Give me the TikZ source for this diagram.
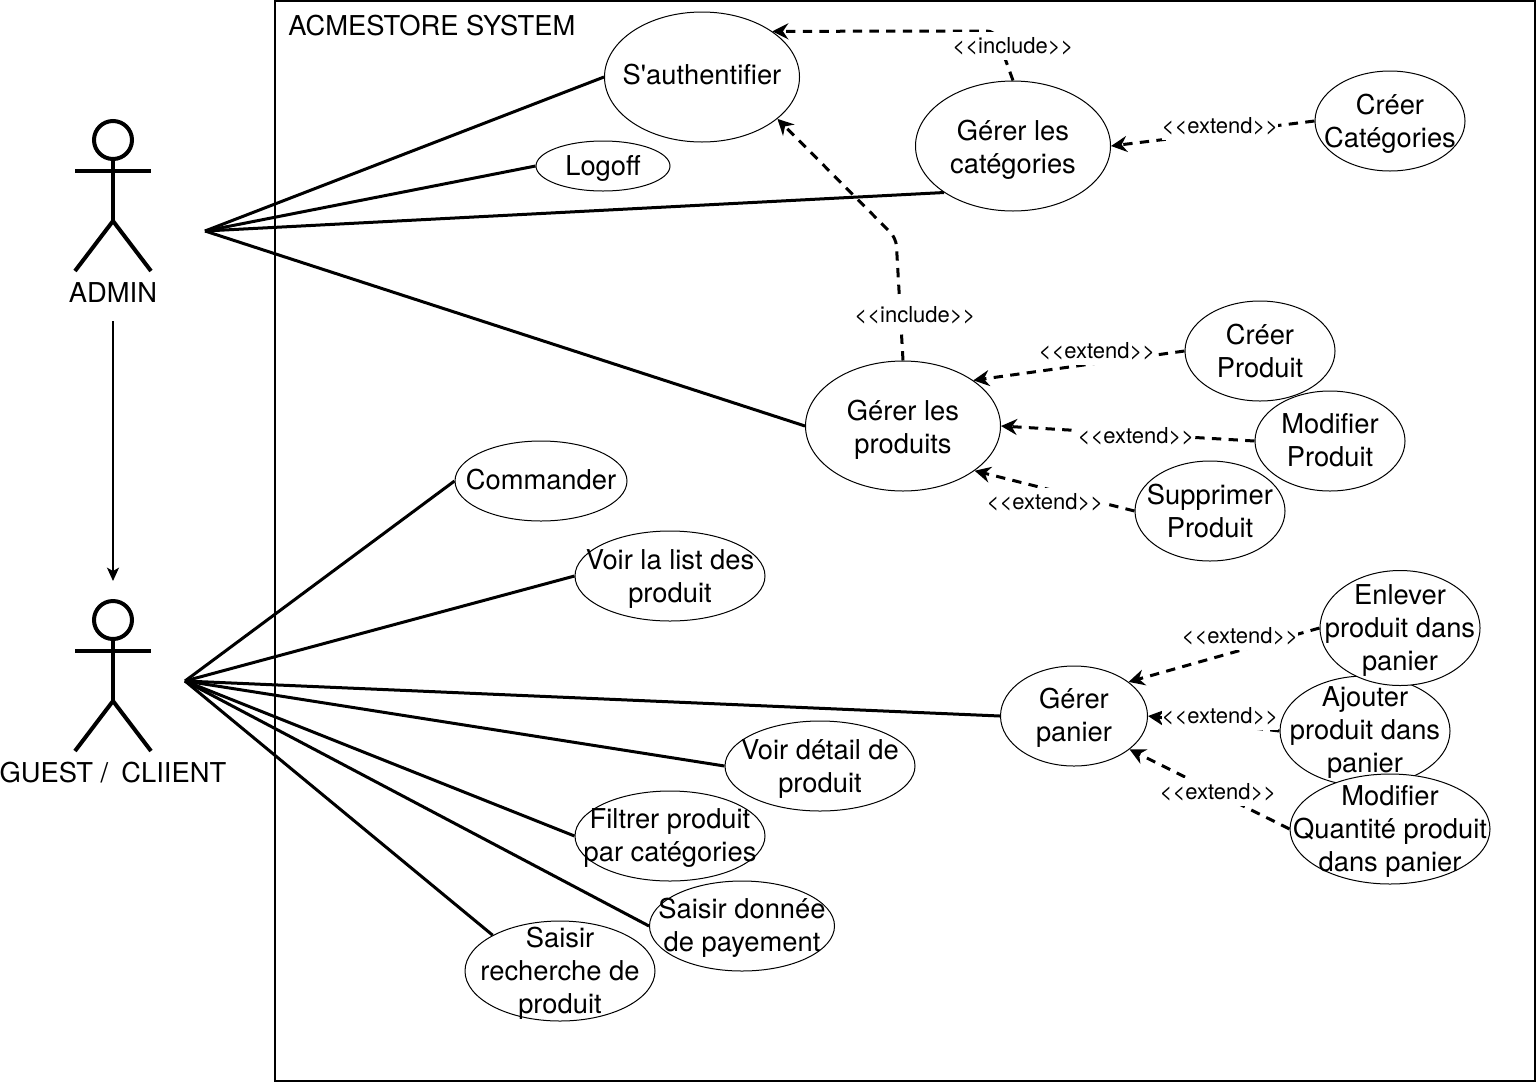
\documentclass[tikz,border=0pt]{standalone}
\usepackage{fontspec}
\setmainfont{TeX Gyre Heros}[Ligatures=TeXOff]
\usetikzlibrary{shapes.geometric,arrows.meta}
\tikzset{
  ucase/.style n args={4}{ellipse,draw,fill=white,line width=0.75pt,inner sep=0pt,
    minimum width=#1*0.75pt,minimum height=#2*0.75pt,
    label={[casetext,yshift={(#3-2)*0.75pt}]center:{#4}}},
  casetext/.style={align=center,font=\fontsize{20.5}{24.75}\selectfont},
  assoc/.style={line width=2.25pt},
  dep/.style={line width=2.25pt,dash pattern=on 7pt off 5.5pt,
    -{Stealth[length=12pt,width=12pt,inset=4pt]},rounded corners=6pt},
  deplabel/.style={fill=white,inner xsep=0pt,inner ysep=0pt,minimum height=21pt,
    font=\fontsize{16.5}{18}\selectfont},
  limb/.style={line width=3pt}
}
\begin{document}
\begin{tikzpicture}[x=0.75pt,y=-0.75pt]
\useasboundingbox (0,0) rectangle (1537,1082);
\newcommand{\actor}[3]{
  \draw[limb] (#1,#2+20) circle (19);
  \draw[limb] (#1,#2+40)--(#1,#2+101);
  \draw[limb] (#1-38,#2+51)--(#1+38,#2+51);
  \draw[limb] (#1-38,#2+151)--(#1,#2+101)--(#1+38,#2+151);
  \node[casetext] at (#1,#2+173) {#3};
}
\draw[line width=1.5pt] (275,1) rectangle (1535,1081);
\node[casetext,anchor=west,inner sep=0pt] (title) at (288,26) {ACMESTORE SYSTEM};
\actor{113}{120}{ADMIN}
\actor{113}{600}{GUEST /\ \kern-1.5pt\ CLIIENT}
\coordinate (adminport) at (205,231);
\coordinate (guestport) at (185,681);
\coordinate (adminfoot) at (113,321);
\coordinate (guesthead) at (113,581);
% use cases
\node[ucase={195}{130}{4}{S'authentifier}] (auth) at (702,77) {};
\node[ucase={134}{50}{0}{Logoff}] (logoff) at (603,166) {};
\node[ucase={195}{130}{-2}{Gérer les\\catégories}] (gcat) at (1013,146) {};
\node[ucase={150}{100}{-1}{Créer\\Catégories}] (ccat) at (1390,121) {};
\node[ucase={195}{130}{-2}{Gérer les\\produits}] (gprod) at (903,426) {};
\node[ucase={150}{100}{2}{Créer\\Produit}] (cprod) at (1260,351) {};
\node[ucase={150}{100}{2.5}{Modifier\\Produit}] (mprod) at (1330,441) {};
\node[ucase={150}{100}{2}{Supprimer\\Produit}] (sprod) at (1210,511) {};
\node[ucase={172}{80}{3}{Commander}] (order) at (541,481) {};
\node[ucase={190}{90}{-1}{Voir la list des\\produit}] (list) at (670,576) {};
\node[ucase={190}{90}{-1}{Voir détail de\\produit}] (detail) at (820,766) {};
\node[ucase={190}{90}{0}{Filtrer produit\\par catégories}] (filter) at (670,836) {};
\node[ucase={185}{90}{0}{Saisir donnée\\de payement}] (pay) at (742,926) {};
\node[ucase={190}{100}{0}{Saisir\\recherche de\\produit}] (search) at (560,971) {};
\node[ucase={147}{100}{0}{Gérer\\panier}] (gcart) at (1074,716) {};
\node[ucase={170}{110}{0}{Ajouter\\produit dans\\panier}] (addc) at (1365,731) {};
\node[ucase={160}{115}{-1}{Enlever\\produit dans\\panier}] (delc) at (1400,628) {};
\node[ucase={200}{110}{0}{Modifier\\Quantité produit\\dans panier}] (qtyc) at (1390,829) {};
% actors
\draw[assoc] (adminport)--(auth.west);
\draw[assoc] (adminport)--(logoff.west);
\draw[assoc] (adminport)--(gcat.214);
\draw[assoc] (adminport)--(gprod.west);
\draw[assoc] (guestport)--(order.west);
\draw[assoc] (guestport)--(list.west);
\draw[assoc] (guestport)--(gcart.west);
\draw[assoc] (guestport)--(detail.west);
\draw[assoc] (guestport)--(filter.west);
\draw[assoc] (guestport)--(pay.west);
\draw[assoc] (guestport)--(search.152);
\draw[line width=1.5pt,-{Stealth[length=10pt,width=9pt,inset=2.5pt]}] (adminfoot)--(guesthead);
% include, extend
\draw[dep] (gcat.north)--(995,31)--(auth.33);
\draw[dep] (gprod.north)--(896,238)--(auth.-29);
\draw[dep] (ccat.west)--(gcat.east);
\draw[dep] (cprod.west)--(gprod.33);
\draw[dep] (mprod.west)--(gprod.east);
\draw[dep] (sprod.west)--(gprod.-32);
\draw[dep] (delc.west)--(gcart.32);
\draw[dep] (addc.west)--(gcart.east);
\draw[dep] (qtyc.west)--(gcart.-31);
\node[deplabel] (l1) at (1013,46) {<<include>>};
\node[deplabel] (l2) at (915,315) {<<include>>};
\node[deplabel] (l3) at (1220,126) {<<extend>>};
\node[deplabel] (l4) at (1097,351) {<<extend>>};
\node[deplabel] (l5) at (1136,436) {<<extend>>};
\node[deplabel] (l6) at (1045,502) {<<extend>>};
\node[deplabel] (l7) at (1240,636) {<<extend>>};
\node[deplabel] (l8) at (1220,716) {<<extend>>};
\node[deplabel] (l9) at (1218,792) {<<extend>>};
\end{tikzpicture}
\end{document}
